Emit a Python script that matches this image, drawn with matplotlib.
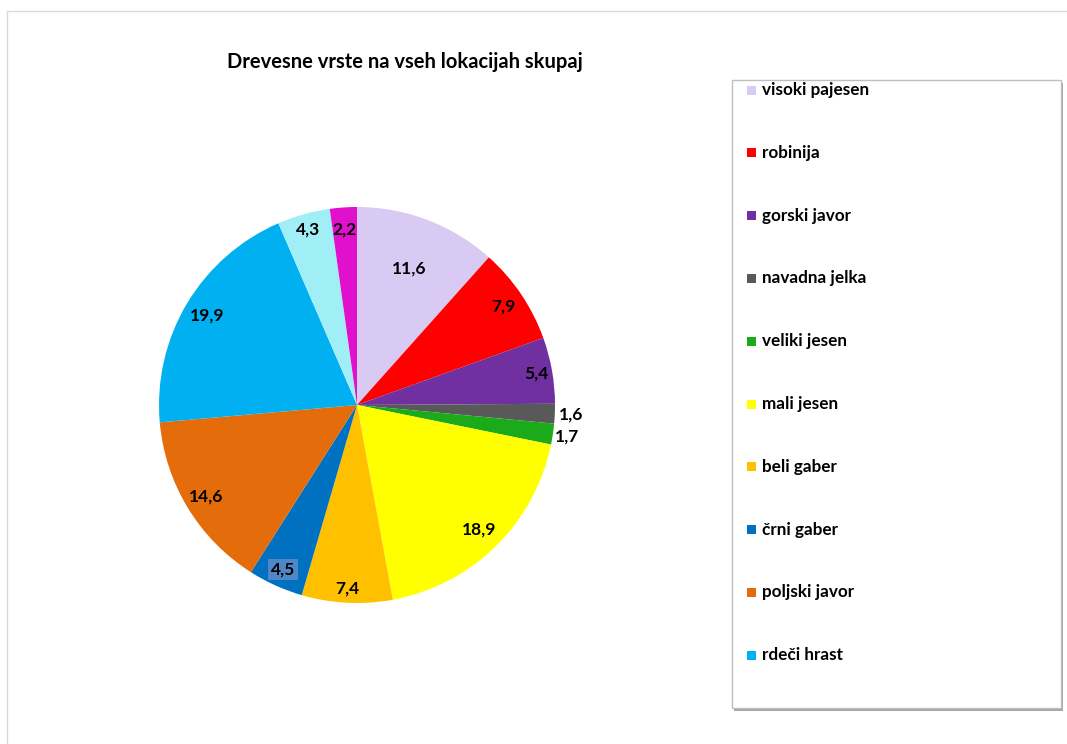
import numpy as np
import matplotlib
matplotlib.use('Agg')
import matplotlib.pyplot as plt
from matplotlib.patches import Rectangle

plt.rcParams['font.family'] = ['Lato', 'DejaVu Sans']

# data
species = ['visoki pajesen', 'robinija', 'gorski javor', 'navadna jelka', 'veliki jesen',
           'mali jesen', 'beli gaber', 'črni gaber', 'poljski javor', 'rdeči hrast',
           'ostalo 1', 'ostalo 2']
shares = [11.6, 7.9, 5.4, 1.6, 1.7, 18.9, 7.4, 4.5, 14.6, 19.9, 4.3, 2.2]
colors = ['#D9CAF4', '#FF0000', '#7030A0', '#595959', '#1AAA1A', '#FFFF00',
          '#FFC000', '#0070C0', '#E46C0A', '#00B0F0', '#A0EEF6', '#E010CC']
n_legend = 10  # the legend box only shows the first ten entries
label_r = [0.74, 0.89, 0.92, 1.08, 1.07, 0.88, 0.93, 0.91, 0.89, 0.88, 0.92, 0.89]

W, H = 1067, 744
fig = plt.figure(figsize=(W / 100, H / 100), dpi=100)

# chart area border
fig.patches.append(Rectangle((7 / W, -0.1), 1.2, 1 - 11 / H + 0.1, transform=fig.transFigure,
                             fill=False, ec='#D9D9D9', lw=1))

cx, cy, R = 357, 405, 198
ax = fig.add_axes([(cx - R) / W, (H - cy - R) / H, 2 * R / W, 2 * R / H])
wedges, _ = ax.pie(shares, colors=colors, startangle=90, counterclock=False, radius=1,
                   wedgeprops=dict(linewidth=0))
ax.set_xlim(-1, 1); ax.set_ylim(-1, 1); ax.set_aspect('equal'); ax.axis('off')

cum = np.cumsum([0] + shares[:-1])
for i, v in enumerate(shares):
    mid = np.deg2rad(90 - (cum[i] + v / 2) / 100 * 360)
    r = label_r[i]
    x, y = r * np.cos(mid), r * np.sin(mid)
    kw = {}
    if i == 7:
        kw['bbox'] = dict(boxstyle='square,pad=0.15', fc='#4F86C6', ec='none')
    ax.text(x, y, f'{v:.1f}'.replace('.', ','), ha='center', va='center',
            fontsize=12.5, fontweight='bold', color='black', **kw)

fig.text(405 / W, 1 - 62 / H, 'Drevesne vrste na vseh lokacijah skupaj', ha='center', va='center',
         fontsize=14.5, fontweight='bold')

# legend box with shadow
lx0, ly0, lx1, ly1 = 732, 80, 1061, 708
fig.patches.append(Rectangle(((lx0 + 2) / W, 1 - (ly1 + 3) / H), (lx1 - lx0) / W, (ly1 - ly0) / H,
                             transform=fig.transFigure, fc='#A6A6A6', ec='none'))
fig.patches.append(Rectangle((lx0 / W, 1 - ly1 / H), (lx1 - lx0) / W, (ly1 - ly0) / H,
                             transform=fig.transFigure, fc='white', ec='#BFBFBF', lw=1))
for i in range(n_legend):
    yy = 90 + i * 62.8
    fig.patches.append(Rectangle((747 / W, 1 - (yy + 4.5) / H), 9 / W, 9 / H,
                                 transform=fig.transFigure, fc=colors[i], ec='none'))
    fig.text(762 / W, 1 - yy / H, species[i], ha='left', va='center', fontsize=12.3, fontweight='bold')

fig.savefig('out.png', dpi=100, facecolor='white')
